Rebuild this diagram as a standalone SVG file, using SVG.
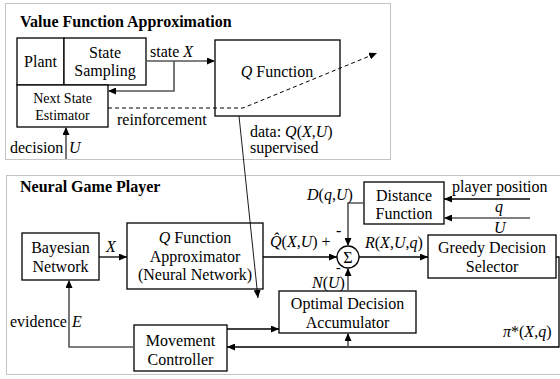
<svg xmlns="http://www.w3.org/2000/svg" width="560" height="379" viewBox="0 0 560 379" font-family="'Liberation Serif', 'Times New Roman', 'DejaVu Serif', serif">
<style>
text{font-family:'Liberation Serif','Times New Roman','DejaVu Serif',serif;font-size:16px;fill:#000}
.b{font-weight:bold}
.s{font-size:14px}
.i{font-style:italic}
.m{text-anchor:middle}
.box{fill:#fff;stroke:#000;stroke-width:1.3}
.frame{fill:none;stroke:#888;stroke-width:1;stroke-dasharray:1,1}
.k{fill:none;stroke:#000;stroke-width:1.3}
.g{fill:none;stroke:#555;stroke-width:1.6}
.t{fill:none;stroke:#000;stroke-width:0.9}
.d{fill:none;stroke:#000;stroke-width:1;stroke-dasharray:4,3}
</style>
<defs>
<marker id="a" markerWidth="8" markerHeight="7" refX="8" refY="3.5" orient="auto" markerUnits="userSpaceOnUse"><path d="M0,0 L8,3.5 L0,7 z" fill="#000"/></marker>
</defs>
<rect class="frame" x="5.5" y="3.5" width="385" height="156"/>
<rect class="frame" x="6.5" y="175.5" width="560" height="199"/>
<text class="b" x="20" y="27">Value Function Approximation</text>
<text class="b" x="20" y="192">Neural Game Player</text>

<g id="plant"><rect class="box" x="17" y="38" width="47" height="47"/><text class="m" x="40.5" y="67">Plant</text></g>
<g id="state-sampling"><rect class="box" x="64" y="38" width="82" height="47"/><text class="m" x="105" y="58">State</text><text class="m" x="105" y="76">Sampling</text></g>
<g id="next-state"><rect class="box" x="17" y="85" width="91" height="42"/><text class="m s" x="62.5" y="103">Next State</text><text class="m s" x="62.5" y="120">Estimator</text></g>
<g id="q-function"><rect class="box" x="215" y="40" width="125" height="76"/><text class="m" x="277" y="77"><tspan class="i">Q</tspan> Function</text></g>
<g id="bayesian"><rect class="box" x="22" y="233" width="77" height="47"/><text class="m" x="60.5" y="253">Bayesian</text><text class="m" x="60.5" y="272">Network</text></g>
<g id="q-approx"><rect class="box" x="127" y="223" width="136" height="66"/><text class="m" x="195" y="243"><tspan class="i">Q</tspan> Function</text><text class="m" x="195" y="262">Approximator</text><text class="m" x="195" y="280">(Neural Network)</text></g>
<g id="sum"><circle cx="348" cy="257" r="11" fill="#fff" stroke="#000" stroke-width="1.3"/><text class="m" x="348" y="263">Σ</text></g>
<g id="distance"><rect class="box" x="364" y="182" width="80" height="42"/><text class="m" x="404" y="201">Distance</text><text class="m" x="404" y="219">Function</text></g>
<g id="greedy"><rect class="box" x="428" y="235" width="128" height="43"/><text class="m" x="492" y="253">Greedy Decision</text><text class="m" x="492" y="272">Selector</text></g>
<g id="optimal"><rect class="box" x="279" y="291" width="137" height="42"/><text class="m" x="347.5" y="309">Optimal Decision</text><text class="m" x="347.5" y="328">Accumulator</text></g>
<g id="movement"><rect class="box" x="134" y="325" width="93" height="46"/><text class="m" x="180.5" y="346">Movement</text><text class="m" x="180.5" y="365">Controller</text></g>

<g id="connectors">
<path class="g" d="M146,61 H215" marker-end="url(#a)"/>
<path class="g" d="M174,61 V91 H108" marker-end="url(#a)"/>
<path class="g" d="M66,159 V127" marker-end="url(#a)"/>
<path class="d" d="M108,108 H243 L377,53" marker-end="url(#a)"/>
<path class="t" d="M239,116 L258,298" marker-end="url(#a)"/>
<path class="k" d="M99,257 H127" marker-end="url(#a)"/>
<path class="k" d="M263,257 H337" marker-end="url(#a)"/>
<path class="k" d="M359,257 H428" marker-end="url(#a)"/>
<path class="g" d="M364,203 H348 V246" marker-end="url(#a)"/>
<path class="g" d="M348,291 V268" marker-end="url(#a)"/>
<path class="k" d="M530,199 H444" marker-end="url(#a)"/>
<path class="g" d="M530,218 H444" marker-end="url(#a)"/>
<path class="k" d="M227,329 H279" marker-end="url(#a)"/>
<path class="k" d="M556,257 H559 V347 H227" marker-end="url(#a)"/>
<path class="g" d="M348,347 V333" marker-end="url(#a)"/>
<path class="g" d="M134,347 H69 V280" marker-end="url(#a)"/>
</g>

<text x="150" y="57">state <tspan class="i">X</tspan></text>
<text x="117" y="125">reinforcement</text>
<text x="250" y="137">data: <tspan class="i">Q</tspan>(<tspan class="i">X</tspan>,<tspan class="i">U</tspan>)</text>
<text x="250" y="153">supervised</text>
<text x="10" y="153">decision</text>
<text class="i" x="69" y="153">U</text>

<text class="i" x="106" y="252">X</text>
<text x="270" y="247"><tspan class="i">Q&#x302;</tspan>(<tspan class="i">X</tspan>,<tspan class="i">U</tspan>) +</text>
<text x="365" y="248"><tspan class="i">R</tspan>(<tspan class="i">X</tspan>,<tspan class="i">U</tspan>,<tspan class="i">q</tspan>)</text>
<text x="307" y="200"><tspan class="i">D</tspan>(<tspan class="i">q</tspan>,<tspan class="i">U</tspan>)</text>
<text x="336" y="236">-</text>
<text x="336" y="272" style="font-size:14px">-</text>
<text x="312" y="288"><tspan class="i">N</tspan>(<tspan class="i">U</tspan>)</text>
<text x="452" y="192">player position</text>
<text class="i" x="495" y="212">q</text>
<text class="i" x="494" y="233">U</text>
<text x="503" y="337"><tspan class="i">π</tspan>*(<tspan class="i">X</tspan>,<tspan class="i">q</tspan>)</text>
<text x="10" y="327">evidence</text>
<text class="i" x="72" y="327">E</text>
</svg>
